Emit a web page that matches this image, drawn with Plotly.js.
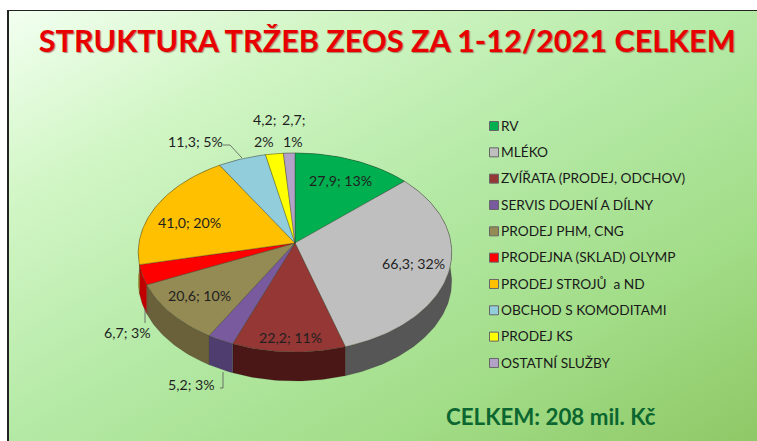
<!DOCTYPE html>
<html><head><meta charset="utf-8">
<script src="https://cdn.plot.ly/plotly-3.0.1.min.js"></script>
<style>
html,body{margin:0;padding:0;background:#fff;width:757px;height:441px;overflow:hidden}
#bg{position:absolute;left:7px;top:10px;width:750px;height:431px;box-sizing:border-box;border-top:1.5px solid #222;border-left:2px solid #222;
background:linear-gradient(to bottom right,#f2fff0 0%,#d2f6c6 22%,#b4e9a5 50%,#a2dd88 75%,#8fc866 100%)}
#chart{position:absolute;left:0;top:0;width:757px;height:441px}
</style></head><body>
<div id="bg"></div><div id="chart"></div>
<script>
const categories=["RV","MLÉKO","ZVÍŘATA (PRODEJ, ODCHOV)","SERVIS DOJENÍ A DÍLNY","PRODEJ PHM, CNG","PRODEJNA (SKLAD) OLYMP","PRODEJ STROJŮ  a ND","OBCHOD S KOMODITAMI","PRODEJ KS","OSTATNÍ SLUŽBY"];
const values=[27.9,66.3,22.2,5.2,20.6,6.7,41.0,11.3,4.2,2.7];
const percents=[13,32,11,3,10,3,20,5,2,1];
const topColors=["#00b050","#bfbfbf","#953735","#7a5a9e","#948a54","#ff0000","#ffc000","#92cddc","#ffff00","#b3a2c7"];
const sideColors=["#007a38","#565656","#4a1616","#4f3d70","#6a6039","#c00000","#b38600","#6a95a0","#b3b300","#7d7190"];
// label centres in page pixels
const labelPos=[[340,180],[413,263],[290,337],[191,384],[199,295],[127,332],[189,222],[195,141],[264,119],[293,119]];
const total=values.reduce((a,b)=>a+b,0);
const fmt=v=>v.toFixed(1).replace('.',',');
// pie projection (perspective disc)
const CX=295,CY=243,B=156,A=98.6,K=0.0955,DEPTH=29;
function proj(t,r,d){const u=Math.sin(t)*r,v=Math.cos(t)*r,w=1+K*v;return [CX+B*u/w,CY-A*v/w+d];}
function arc(a,b,d){const n=Math.max(2,Math.ceil((b-a)/0.02));const p=[];for(let i=0;i<=n;i++)p.push(proj(a+(b-a)*i/n,1,d));return p;}
const traces=[];
let cum=0;const tops=[];
values.forEach((val,i)=>{const a=cum/total*2*Math.PI;cum+=val;const b=cum/total*2*Math.PI;
 const ta=arc(a,b,0),ba=arc(a,b,DEPTH).reverse();
 const side=ta.concat(ba);side.push(ta[0]);
 traces.push({type:'scatter',mode:'lines',x:side.map(p=>p[0]),y:side.map(p=>p[1]),fill:'toself',fillcolor:sideColors[i],line:{color:'rgba(40,40,40,0.35)',width:0.5},hoverinfo:'skip',showlegend:false});
 const apex=proj(0,0,0);const poly=[apex].concat(ta);poly.push(apex);
 tops.push({type:'scatter',mode:'lines',x:poly.map(p=>p[0]),y:poly.map(p=>p[1]),fill:'toself',fillcolor:topColors[i],line:{color:'rgba(50,50,40,0.6)',width:0.6},name:categories[i],hoverinfo:'name',showlegend:false});
});
traces.push(...tops);
// leader lines
[[[223,145],[230,145],[242,158]],[[145,308],[145,323]],[[220,388],[223,388],[223,372]]].forEach(l=>{
 traces.push({type:'scatter',mode:'lines',x:l.map(p=>p[0]),y:l.map(p=>p[1]),line:{color:'#555',width:0.8},hoverinfo:'skip',showlegend:false});
});
// legend keys and text
const legY=categories.map((c,i)=>126+i*26.33);
traces.push({type:'scatter',mode:'markers',x:categories.map(()=>494),y:legY,
 marker:{symbol:'square',size:9,color:topColors,line:{color:'#666',width:1}},hoverinfo:'skip',showlegend:false});
traces.push({type:'scatter',mode:'text',x:categories.map(()=>501),y:legY.map(y=>y+1.2),text:categories,textposition:'middle right',
 textfont:{family:'Lato',size:13.7,color:'#1a1a1a'},cliponaxis:false,hoverinfo:'skip',showlegend:false});
const annotations=[];
values.forEach((v,i)=>{const pos=labelPos[i];
 if(i>=8){
  annotations.push({xref:'x',yref:'y',x:pos[0],y:pos[1],showarrow:false,text:`${fmt(v)};`,font:{family:'Lato',size:14.2,color:'#1f1f1f'}});
  annotations.push({xref:'x',yref:'y',x:pos[0],y:pos[1]+22,showarrow:false,text:`${percents[i]}%`,font:{family:'Lato',size:14.2,color:'#1f1f1f'}});
 } else annotations.push({xref:'x',yref:'y',x:pos[0],y:pos[1],showarrow:false,text:`${fmt(v)}; ${percents[i]}%`,font:{family:'Lato',size:14.2,color:'#1f1f1f'}});
});
annotations.push({xref:'x',yref:'y',x:550.5,y:416,showarrow:false,text:`<b>CELKEM: ${Math.round(total)} mil. Kč</b>`,font:{family:'Lato',size:22.3,color:'#0b6630'}});
const layout={width:757,height:441,margin:{l:0,r:0,t:0,b:0},paper_bgcolor:'rgba(0,0,0,0)',plot_bgcolor:'rgba(0,0,0,0)',showlegend:false,
 title:{text:'<b>STRUKTURA TRŽEB ZEOS ZA 1-12/2021 CELKEM</b>',x:0.5115,xanchor:'center',y:0.906,yanchor:'middle',font:{family:'Lato',size:30.6,color:'#e80000',shadow:'1px 1px 1px rgba(110,0,0,0.45)'}},
 xaxis:{range:[0,757],visible:false,fixedrange:true},yaxis:{range:[441,0],visible:false,fixedrange:true},annotations};
Plotly.newPlot('chart',traces,layout,{displayModeBar:false,staticPlot:true});
</script></body></html>
